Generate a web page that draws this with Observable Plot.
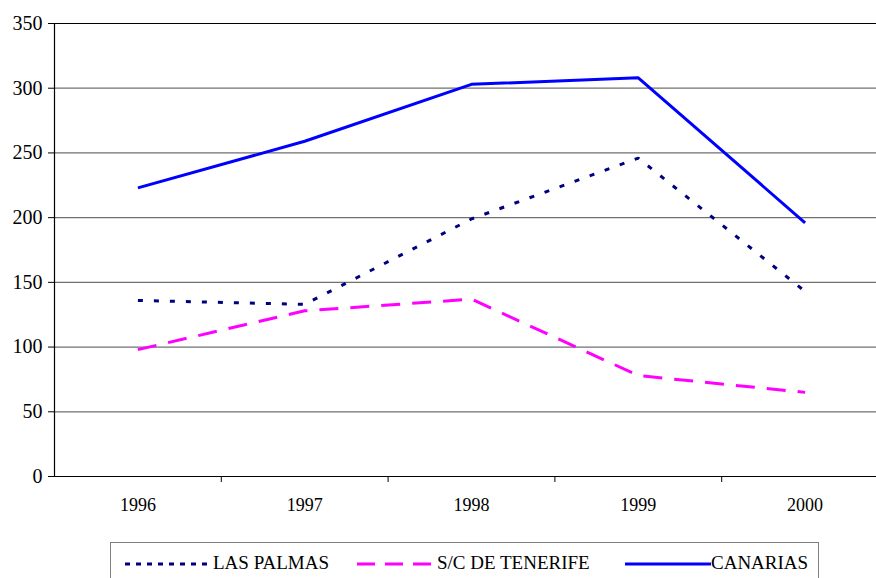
<!DOCTYPE html>
<html>
<head>
<meta charset="utf-8">
<script src="https://cdn.jsdelivr.net/npm/d3@7"></script>
<script src="https://cdn.jsdelivr.net/npm/@observablehq/plot@0.6"></script>
</head>
<body style="margin:0;padding:0;background:#fff;overflow:hidden;width:876px;height:578px;font-family:'Liberation Serif' !important">
<div id="chart" style="position:absolute;left:0;top:0"></div>
<div id="legend" style="position:absolute;left:110px;top:542px;width:707px;height:50px;border:1px solid #808080;background:#fff;font-size:19px;color:#000;font-family:'Liberation Serif' !important"></div>
<script>
const years = [1996, 1997, 1998, 1999, 2000];
const lasPalmas = [136, 133, 199, 246, 143];
const tenerife = [98, 128, 137, 78, 65];
const canarias = [223, 259, 303, 308, 196];
const seriesNames = ["LAS PALMAS", "S/C DE TENERIFE", "CANARIAS"];
const yTicks = [0, 50, 100, 150, 200, 250, 300, 350];

const seriesStyle = {
  "LAS PALMAS": {stroke: "#000080", dash: "5,11"},
  "S/C DE TENERIFE": {stroke: "#FF00FF", dash: "19,12"},
  "CANARIAS": {stroke: "#0000FF", dash: null}
};

const rows = (name, vals) => years.map((y, i) => ({series: name, year: y, value: vals[i]}));
const data = [
  ...rows(seriesNames[0], lasPalmas),
  ...rows(seriesNames[1], tenerife),
  ...rows(seriesNames[2], canarias)
];
const bounds = years.slice(0, -1).map(y => y + 0.5);

const lineMark = name => Plot.line(data.filter(d => d.series === name), {
  x: "year", y: "value",
  stroke: seriesStyle[name].stroke,
  strokeWidth: 3,
  strokeDasharray: seriesStyle[name].dash,
  strokeLinejoin: "miter",
  strokeLinecap: "butt"
});

const chart = Plot.plot({
  width: 876,
  height: 540,
  marginLeft: 54,
  marginRight: 0,
  marginTop: 23,
  marginBottom: 64,
  style: {fontFamily: "Liberation Serif", color: "#000", background: "#fff"},
  x: {type: "linear", domain: [1995.5, 2000.5], range: [54, 888], label: null},
  y: {domain: [0, 350], range: [476, 23], label: null},
  marks: [
    Plot.gridY(yTicks.filter(t => t > 0 && t < 350), {stroke: "#707070", strokeOpacity: 1, strokeWidth: 1.2}),
    Plot.ruleY([350], {stroke: "#000", strokeWidth: 1.2}),
    Plot.axisY({ticks: yTicks, tickSize: 6, tickPadding: 6, fontSize: 20, tickFormat: d => String(d), stroke: "#000", label: null}),
    Plot.axisX({ticks: years, tickSize: 0, tickPadding: 22, fontSize: 18, tickFormat: d => String(d), label: null}),
    Plot.axisX({ticks: bounds, tickSize: 6, tickFormat: () => "", stroke: "#000", label: null}),
    Plot.ruleY([0], {stroke: "#000", strokeWidth: 1.2}),
    Plot.ruleX([1995.5], {stroke: "#000", strokeWidth: 1.2}),
    lineMark("LAS PALMAS"),
    lineMark("S/C DE TENERIFE"),
    lineMark("CANARIAS")
  ]
});
document.getElementById("chart").appendChild(chart);

// Legend
const legend = document.getElementById("legend");
const legendPos = [
  {name: "LAS PALMAS", left: 14, sw: 88, dash: "5,6"},
  {name: "S/C DE TENERIFE", left: 246, sw: 80, dash: "18,10"},
  {name: "CANARIAS", left: 514, sw: 86, dash: null}
];
legendPos.forEach(p => {
  const st = seriesStyle[p.name];
  const item = document.createElement("div");
  item.setAttribute("style", "position:absolute;top:9px;white-space:nowrap;display:flex;align-items:center;left:" + p.left + "px");
  const svg = d3.create("svg").attr("width", p.sw).attr("height", 20).style("display", "block");
  svg.append("line").attr("x1", 0).attr("x2", p.sw).attr("y1", 11).attr("y2", 11)
    .attr("stroke", st.stroke).attr("stroke-width", 3)
    .attr("stroke-dasharray", p.dash);
  item.appendChild(svg.node());
  const span = document.createElement("span");
  span.textContent = p.name;
  item.appendChild(span);
  legend.appendChild(item);
});

function forceFont() {
  document.querySelectorAll("body, body *").forEach(el => {
    el.style.setProperty("font-family", "'Liberation Serif', 'Times New Roman', serif", "important");
    if (el.tagName && el.tagName.toLowerCase() === "svg") el.setAttribute("font-family", "Liberation Serif");
  });
}
forceFont();
</script>
</body>
</html>
